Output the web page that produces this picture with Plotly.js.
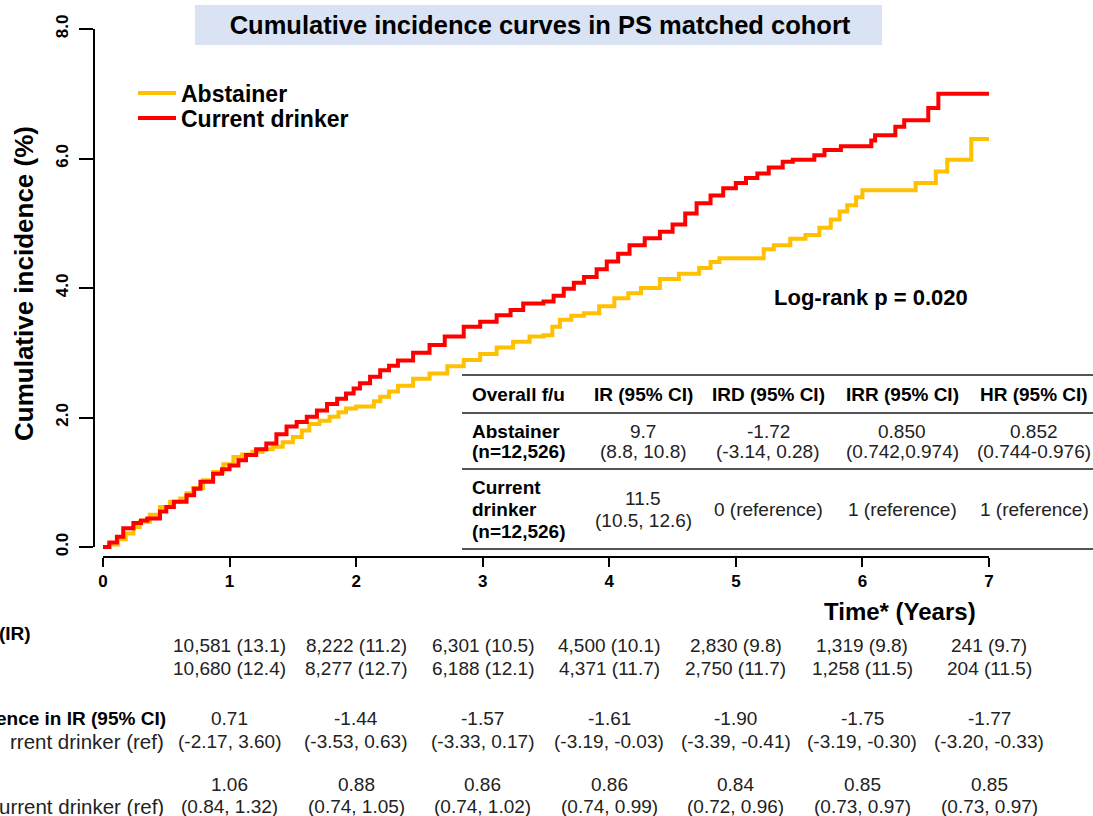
<!DOCTYPE html>
<html>
<head>
<meta charset="utf-8">
<script src="https://cdn.plot.ly/plotly-3.0.1.min.js"></script>
<style>html,body{margin:0;padding:0;background:#fff;}#chart{width:1093px;height:816px;}</style>
</head>
<body>
<div id="chart"></div>
<script>
// ---------------- DATA ----------------
const abstainerTime = [0,0.05,0.12,0.18,0.24,0.29,0.37,0.45,0.53,0.61,0.66,0.71,0.79,0.87,0.95,1.03,1.10,1.18,1.26,1.34,1.42,1.50,1.57,1.63,1.71,1.79,1.86,1.92,2.00,2.08,2.14,2.19,2.26,2.33,2.45,2.58,2.72,2.85,2.98,3.11,3.24,3.37,3.48,3.55,3.61,3.70,3.80,3.92,4.04,4.15,4.25,4.40,4.55,4.71,4.80,4.87,5.18,5.22,5.30,5.43,5.55,5.66,5.75,5.82,5.88,5.95,6.00,6.42,6.58,6.67,6.86,7.02];
const abstainerInc  = [0,0.04,0.12,0.21,0.31,0.39,0.50,0.62,0.70,0.75,0.83,0.91,1.03,1.16,1.28,1.39,1.43,1.47,1.51,1.55,1.62,1.70,1.80,1.90,1.95,2.01,2.08,2.14,2.17,2.17,2.25,2.32,2.40,2.49,2.60,2.68,2.79,2.89,2.98,3.08,3.17,3.25,3.27,3.40,3.51,3.57,3.61,3.72,3.84,3.92,4.00,4.14,4.22,4.31,4.40,4.46,4.46,4.60,4.66,4.76,4.82,4.93,5.06,5.18,5.28,5.40,5.51,5.62,5.80,5.98,6.30,6.30];

const drinkerTime = [0,0.05,0.11,0.16,0.24,0.30,0.35,0.45,0.50,0.56,0.66,0.72,0.77,0.87,0.94,1.00,1.07,1.13,1.21,1.29,1.37,1.45,1.53,1.61,1.69,1.77,1.85,1.92,1.98,2.03,2.11,2.19,2.26,2.33,2.45,2.58,2.70,2.85,2.98,3.11,3.22,3.32,3.48,3.56,3.64,3.72,3.80,3.90,3.98,4.07,4.16,4.28,4.40,4.50,4.60,4.69,4.80,4.90,5.00,5.08,5.17,5.26,5.37,5.45,5.62,5.70,5.83,6.07,6.10,6.26,6.33,6.52,6.60,7.02];
const drinkerInc  = [0,0.07,0.16,0.29,0.37,0.41,0.44,0.55,0.62,0.70,0.80,0.90,1.01,1.13,1.20,1.26,1.34,1.42,1.51,1.60,1.74,1.86,1.93,2.01,2.11,2.21,2.29,2.37,2.45,2.53,2.63,2.73,2.80,2.88,3.00,3.12,3.25,3.40,3.48,3.58,3.66,3.76,3.79,3.88,3.99,4.08,4.17,4.29,4.41,4.53,4.66,4.77,4.87,4.98,5.15,5.31,5.43,5.54,5.62,5.70,5.77,5.86,5.95,5.98,6.05,6.13,6.19,6.28,6.36,6.49,6.59,6.78,7.00,7.00];

const seriesNames = ['Abstainer', 'Current drinker'];
const xTickVals = [0,1,2,3,4,5,6,7];
const yTickVals = [0,2,4,6,8];

const tableHeader = ['Overall f/u','IR (95% CI)','IRD (95% CI)','IRR (95% CI)','HR (95% CI)'];
const tableAbstainer = [['Abstainer','(n=12,526)'],['9.7','(8.8, 10.8)'],['-1.72','(-3.14, 0.28)'],['0.850','(0.742,0.974)'],['0.852','(0.744-0.976)']];
const tableDrinker = [['Current','drinker','(n=12,526)'],['11.5','(10.5, 12.6)'],['0 (reference)'],['1 (reference)'],['1 (reference)']];

const riskYears = [1,2,3,4,5,6,7];
const riskAbstainer = ['10,581 (13.1)','8,222 (11.2)','6,301 (10.5)','4,500 (10.1)','2,830 (9.8)','1,319 (9.8)','241 (9.7)'];
const riskDrinker   = ['10,680 (12.4)','8,277 (12.7)','6,188 (12.1)','4,371 (11.7)','2,750 (11.7)','1,258 (11.5)','204 (11.5)'];
const irdEstimate = ['0.71','-1.44','-1.57','-1.61','-1.90','-1.75','-1.77'];
const irdCI = ['(-2.17, 3.60)','(-3.53, 0.63)','(-3.33, 0.17)','(-3.19, -0.03)','(-3.39, -0.41)','(-3.19, -0.30)','(-3.20, -0.33)'];
const irrEstimate = ['1.06','0.88','0.86','0.86','0.84','0.85','0.85'];
const irrCI = ['(0.84, 1.32)','(0.74, 1.05)','(0.74, 1.02)','(0.74, 0.99)','(0.72, 0.96)','(0.73, 0.97)','(0.73, 0.97)'];
const leftLabels = ['(IR)','ence in IR (95% CI)','rrent drinker (ref)','urrent drinker (ref)'];

// ---------------- LAYOUT HELPERS ----------------
const FONT = 'Liberation Sans, Arial, Helvetica, sans-serif';
const L = 94, T = 29, W = 895, H = 528, FW = 1093, FH = 816;
const px = v => (v - L) / W;
const py = v => 1 - (v - T) / H;

const annotations = [];
function ann(text, xp, yp, o) {
  o = o || {};
  annotations.push({
    text: text, xref: 'paper', yref: 'paper', x: px(xp), y: py(yp),
    xanchor: o.xanchor || 'center', yanchor: 'middle', showarrow: false,
    textangle: o.angle || 0,
    font: {family: FONT, size: o.size || 18, color: o.color || '#000', weight: o.bold ? 'bold' : 'normal'}
  });
}

// Table
const colX = [470, 643, 768, 902, 1034];
const headerY = 394;
const abstY = [431, 451];
const drinkY = [487, 509, 531];
const TS = 19;
tableHeader.forEach((t, i) => ann(t, colX[i], headerY, {bold: true, size: TS, xanchor: i === 0 ? 'left' : 'center'}));
tableAbstainer.forEach((cell, i) => cell.forEach((t, j) => ann(t, colX[i], abstY[j], {bold: i === 0, size: TS, color: i === 0 ? '#000' : '#222', xanchor: i === 0 ? 'left' : 'center'})));
tableDrinker.forEach((cell, i) => {
  const ys = cell.length === 3 ? drinkY : (cell.length === 2 ? [498, 520] : [509]);
  cell.forEach((t, j) => ann(t, colX[i], ys[j], {bold: i === 0, size: TS, color: i === 0 ? '#000' : '#222', xanchor: i === 0 ? 'left' : 'center'}));
});

// Bottom rows
const rowsY = [645, 668, 718, 741, 784, 806];
const bottomRows = [riskAbstainer, riskDrinker, irdEstimate, irdCI, irrEstimate, irrCI];
bottomRows.forEach((row, r) => row.forEach((t, i) => {
  annotations.push({text: t, xref: 'x', yref: 'paper', x: riskYears[i], y: py(rowsY[r]),
    xanchor: 'center', yanchor: 'middle', showarrow: false,
    font: {family: FONT, size: 19, color: '#222'}});
}));
ann(leftLabels[0], 33, 633, {xanchor: 'right', bold: true, size: 19});
ann(leftLabels[1], 168, 718, {xanchor: 'right', bold: true, size: 19});
ann(leftLabels[2], 166, 741, {xanchor: 'right', size: 20.5, color: '#222'});
ann(leftLabels[3], 166, 806, {xanchor: 'right', size: 20.5, color: '#222'});

// Other texts
ann('Log-rank p = 0.020', 871, 297, {bold: true, size: 22});
ann('Time* (Years)', 900, 611, {bold: true, size: 24});
ann('Cumulative incidence (%)', 24, 284, {bold: true, size: 26, angle: -90});

// Shapes
const lineStyle = {color: '#555', width: 2};
const shapes = [
  {type: 'rect', xref: 'paper', yref: 'paper', x0: px(195), x1: px(882), y0: py(45), y1: py(5), fillcolor: '#dae3f3', line: {width: 0}, layer: 'below'},
  {type: 'line', xref: 'paper', yref: 'y', x0: 0, x1: 0, y0: yTickVals[0], y1: yTickVals[yTickVals.length - 1], line: {color: '#000', width: 2}},
  {type: 'line', xref: 'x', yref: 'paper', x0: xTickVals[0], x1: xTickVals[xTickVals.length - 1], y0: 0, y1: 0, line: {color: '#000', width: 2}}
];
[375, 413, 469, 549].forEach(yy => shapes.push({type: 'line', xref: 'paper', yref: 'paper', x0: px(462), x1: px(FW + 5), y0: py(yy), y1: py(yy), line: lineStyle}));

const traces = [
  {x: abstainerTime, y: abstainerInc, name: seriesNames[0], mode: 'lines', legend: 'legend', line: {shape: 'hv', color: '#FFC000', width: 4}},
  {x: drinkerTime, y: drinkerInc, name: seriesNames[1], mode: 'lines', legend: 'legend2', line: {shape: 'hv', color: '#FF0000', width: 4}}
];

const legendFont = {family: FONT, size: 23, weight: 'bold', color: '#000'};
const layout = {
  width: FW, height: FH,
  margin: {l: L, r: FW - L - W, t: T, b: FH - T - H},
  paper_bgcolor: '#fff', plot_bgcolor: '#fff',
  font: {family: FONT, color: '#000'},
  title: {text: 'Cumulative incidence curves in PS matched cohort', font: {family: FONT, size: 25.5, weight: 'bold', color: '#000'},
    xref: 'paper', x: px(540), xanchor: 'center', yref: 'container', y: 1 - 25 / FH, yanchor: 'middle'},
  xaxis: {range: [-0.0711, 7], tickvals: xTickVals, ticks: 'outside', ticklen: 9, tickwidth: 2, tickcolor: '#000',
    showline: false, showgrid: false, zeroline: false,
    tickfont: {family: FONT, size: 17, weight: 'bold', color: '#000'}},
  yaxis: {range: [-0.154, 8], tickvals: yTickVals, tickformat: '.1f', ticks: 'outside', ticklen: 14, tickwidth: 2, tickcolor: '#000',
    tickangle: -90, ticklabelstandoff: 4, showline: false, showgrid: false, zeroline: false,
    tickfont: {family: FONT, size: 17, weight: 'bold', color: '#000'}},
  showlegend: true,
  legend: {x: px(133), xanchor: 'left', y: py(93), yanchor: 'middle', bgcolor: 'rgba(0,0,0,0)', itemwidth: 38, font: legendFont},
  legend2: {x: px(133), xanchor: 'left', y: py(118), yanchor: 'middle', bgcolor: 'rgba(0,0,0,0)', itemwidth: 38, font: legendFont},
  shapes: shapes,
  annotations: annotations
};

Plotly.newPlot('chart', traces, layout, {displayModeBar: false, responsive: false});
</script>
</body>
</html>
